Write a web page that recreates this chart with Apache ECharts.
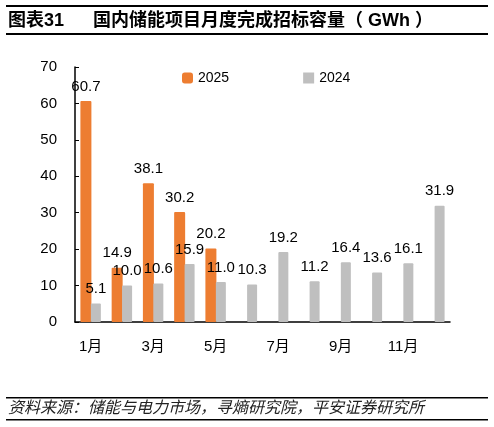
<!DOCTYPE html>
<html>
<head>
<meta charset="utf-8">
<script src="https://cdn.jsdelivr.net/npm/echarts@6/dist/echarts.min.js"></script>
<style>
  html, body { margin: 0; padding: 0; background: #fff; }
  #chart { width: 494px; height: 427px; }
</style>
</head>
<body>
<div id="chart"></div>
<script>
// Data
const months = ["1月", "2月", "3月", "4月", "5月", "6月", "7月", "8月", "9月", "10月", "11月", "12月"];
const values2025 = [60.7, 14.9, 38.1, 30.2, 20.2];
const values2024 = [5.1, 10.0, 10.6, 15.9, 11.0, 10.3, 19.2, 11.2, 16.4, 13.6, 16.1, 31.9];
const yTicks = [0, 10, 20, 30, 40, 50, 60, 70];

const font = "'Liberation Sans', Arial, 'Noto Sans CJK SC', sans-serif";

const chart = echarts.init(document.getElementById("chart"));

const labelStyle = {
  show: true,
  position: "top",
  distance: 7,
  color: "#000",
  fontSize: 15,
  fontFamily: font,
  formatter: (p) => p.value.toFixed(1),
};

const option = {
  backgroundColor: "#fff",
  animation: false,
  textStyle: { fontFamily: font },
  grid: { left: 75, right: 44, top: 67, bottom: 105 },
  legend: {
    left: 177,
    top: 66,
    itemWidth: 11,
    itemHeight: 11,
    itemGap: 74,
    textStyle: { fontSize: 14, color: "#000", fontFamily: font },
    data: [
      { name: "2025", icon: "roundRect" },
      { name: "2024", icon: "rect" },
    ],
  },
  xAxis: {
    type: "category",
    data: months,
    axisLine: { lineStyle: { color: "#000", width: 1.5 } },
    axisTick: { inside: true, length: 4, interval: 0, lineStyle: { color: "#000" } },
    axisLabel: { interval: 1, color: "#000", fontSize: 15, margin: 17, fontFamily: font },
  },
  yAxis: {
    type: "value",
    min: yTicks[0],
    max: yTicks[yTicks.length - 1],
    interval: 10,
    axisLine: { show: true, lineStyle: { color: "#000", width: 1.5 } },
    axisTick: { show: true, inside: true, length: 4, lineStyle: { color: "#000" } },
    axisLabel: { color: "#000", fontSize: 15, margin: 18, fontFamily: font },
    splitLine: { show: false },
  },
  series: [
    {
      name: "2025",
      type: "bar",
      data: values2025,
      barWidth: 11,
      barGap: "-5%",
      itemStyle: { color: "#ED7D31", borderRadius: 1 },
      label: labelStyle,
    },
    {
      name: "2024",
      type: "bar",
      data: values2024,
      barWidth: 10,
      itemStyle: { color: "#BFBFBF", borderRadius: 1 },
      label: labelStyle,
    },
  ],
  graphic: [
    // title rules
    { type: "rect", shape: { x: 6, y: 5, width: 482, height: 2 }, style: { fill: "#000" } },
    { type: "rect", shape: { x: 6, y: 33, width: 482, height: 2 }, style: { fill: "#000" } },
    {
      type: "text",
      left: 8,
      top: 12,
      style: { text: "图表31", font: "bold 18px " + font, fill: "#000" },
    },
    {
      type: "text",
      left: 93,
      top: 12,
      style: {
        text: "国内储能项目月度完成招标容量（ GWh ）",
        font: "bold 18px " + font,
        fill: "#000",
      },
    },
    // footer rules
    { type: "rect", shape: { x: 6, y: 397, width: 482, height: 1.5 }, style: { fill: "#000" } },
    { type: "rect", shape: { x: 6, y: 419, width: 482, height: 1.5 }, style: { fill: "#000" } },
    {
      type: "text",
      left: 8,
      top: 401,
      style: {
        text: "资料来源：储能与电力市场，寻熵研究院，平安证券研究所",
        font: "italic 16px " + font,
        fill: "#222",
      },
    },
  ],
};

chart.setOption(option);
</script>
</body>
</html>
